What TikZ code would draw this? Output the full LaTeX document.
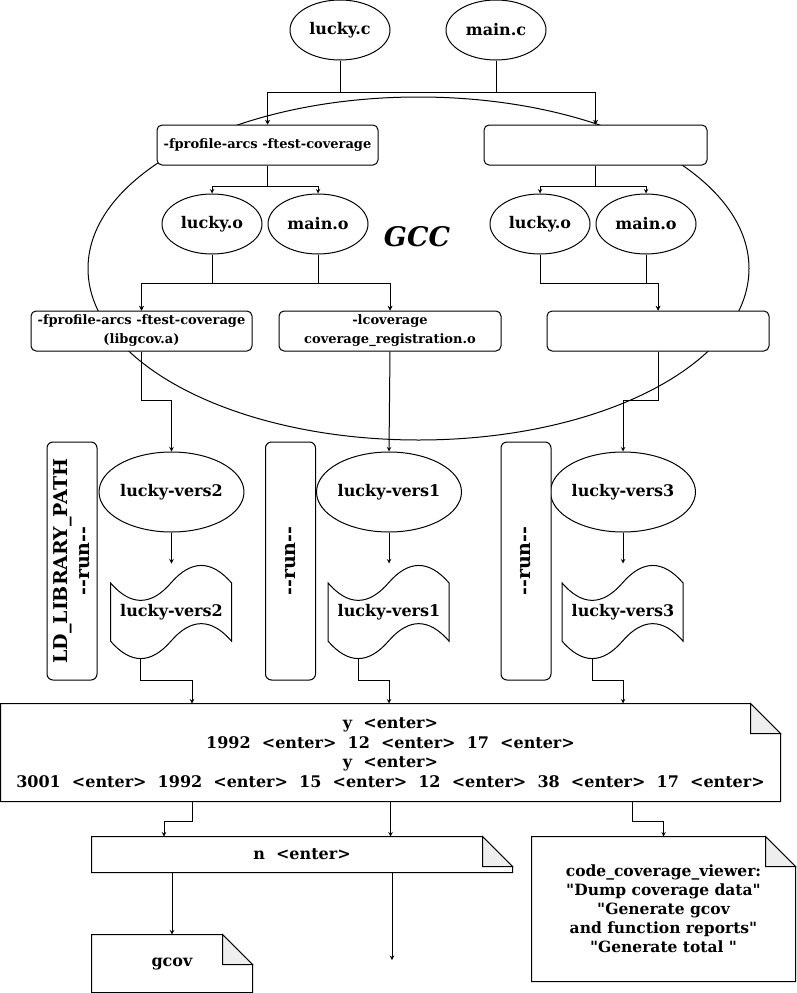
\documentclass[tikz,border=0pt]{standalone}
\usepackage{fontspec}
\setmainfont{DejaVu Serif}[Ligatures=TeXOff]
\usetikzlibrary{positioning,shapes.geometric}
\definecolor{foldColor}{RGB}{238,238,238}

\newcommand{\lblfont}{\bfseries\fontsize{16}{19}\selectfont}
\newcommand{\flagfont}{\bfseries\fontsize{13}{19}\selectfont}
\newcommand{\sidefont}{\bfseries\fontsize{19}{22}\selectfont}
\newcommand{\gccfont}{\bfseries\itshape\fontsize{27}{30}\selectfont}
\newcommand{\notefont}{\bfseries\fontsize{16}{19.5}\selectfont}

% page with a folded corner
\newcommand{\notepage}[1]{%
  \draw (#1.north west) -- ([xshift=-30pt]#1.north east) -- ([yshift=-30pt]#1.north east)
    -- (#1.south east) -- (#1.south west) -- cycle;
  \draw[fill=foldColor] ([xshift=-30pt]#1.north east) -- ([xshift=-30pt,yshift=-30pt]#1.north east)
    -- ([yshift=-30pt]#1.north east) -- cycle;}

% punched tape outline
\newcommand{\tapepage}[1]{%
  \begin{scope}[shift={(#1.north west)}]
    \draw (0,19.4) .. controls (20.17,42.67) and (40.33,42.67) .. (60.5,19.4)
      .. controls (80.67,-3.87) and (100.83,-3.87) .. (121,19.4) -- (121,77.6)
      .. controls (100.83,54.33) and (80.67,54.33) .. (60.5,77.6)
      .. controls (40.33,100.87) and (20.17,100.87) .. (0,77.6) -- cycle;
    \coordinate (#1-out) at (30.25,95);
  \end{scope}}

\begin{document}
\begin{tikzpicture}[x=1pt,y=-1pt,line width=1pt]
    \tikzstyle{src} = [ellipse,draw,fill=white,inner sep=0pt,minimum width=100pt,minimum height=60pt,font=\lblfont]
    \tikzstyle{bin} = [src,minimum width=131pt,minimum height=80pt]
    \tikzstyle{flag} = [rectangle,draw,fill=white,rounded corners=5pt,minimum height=40pt,inner sep=2pt,align=center,font=\flagfont]
    \tikzstyle{tapebox} = [rectangle,inner sep=0pt,minimum width=121pt,minimum height=97pt,font=\lblfont]
    \tikzstyle{runbox} = [rectangle,draw,fill=white,rounded corners=6pt,rotate=90,minimum width=238pt,minimum height=50pt,inner sep=0pt,align=center,font=\sidefont]
    \tikzstyle{notebox} = [rectangle,inner sep=0pt,align=center,font=\notefont]
    \tikzset{>={stealth}}

    \useasboundingbox (0,0) rectangle (796,993);

    \node [ellipse,draw,minimum width=661pt,minimum height=343pt] (gccarea) at (418.5,268.5) {};
    \node [font=\gccfont] (gcc) at (417,237) {GCC};

    \node [src] (luckyc) at (340,30) {lucky.c};
    \node [src, right=55pt of luckyc] (mainc) {main.c};

    \node [flag, minimum width=221pt] (covA) at (267.5,145) {-fprofile-arcs -ftest-coverage};
    \node [flag, minimum width=223pt, right=105pt of covA] (plainB) {};
    \foreach \s in {luckyc,mainc}
      \foreach \t in {covA,plainB}
        \draw [->] (\s.south) -- ++(0,32) -| (\t.north);

    \node [src] (luckyoA) at (212,224) {lucky.o};
    \node [src, right=5pt of luckyoA] (mainoA) {main.o};
    \node [src] (luckyoB) at (540,224) {lucky.o};
    \node [src, right=5pt of luckyoB] (mainoB) {main.o};
    \foreach \t in {luckyoA,mainoA}
      \draw [->] (covA.south) -- ++(0,21) -| (\t.north);
    \foreach \t in {luckyoB,mainoB}
      \draw [->] (plainB.south) -- ++(0,21) -| (\t.north);

    \node [flag, minimum width=221pt] (libA) at (141.5,331) {-fprofile-arcs -ftest-coverage\\(libgcov.a)};
    \node [flag, minimum width=222pt, right=26pt of libA] (regB) {-lcoverage\\coverage\_registration.o};
    \node [flag, minimum width=222pt, right=45pt of regB] (plainC) {};
    \foreach \s in {luckyoA,mainoA}
      \foreach \t in {libA,regB}
        \draw [->] (\s.south) -- ++(0,29) -| (\t.north);
    \foreach \s in {luckyoB,mainoB}
      \draw [->] (\s.south) -- ++(0,29) -| (plainC.north);

    \node [bin] (vers2) at (171.5,492) {lucky-vers2};
    \node [bin] (vers1) at (389,492) {lucky-vers1};
    \node [bin] (vers3) at (623,492) {lucky-vers3};
    \draw [->] (libA.south) -- ++(0,49) -| (vers2.north);
    \draw [->] (regB.south) -- (vers1.north);
    \draw [->] (plainC.south) -- ++(0,49) -| (vers3.north);

    \node [runbox] (ldrun) at (72,561) {LD\_LIBRARY\_PATH\\-\kern0pt-run-\kern0pt-};
    \node [runbox] (runA) at (290.5,561) {-\kern0pt-run-\kern0pt-};
    \node [runbox] (runB) at (526,561) {-\kern0pt-run-\kern0pt-};

    \node [tapebox, below=31pt of vers2] (tape2) {lucky-vers2};
    \node [tapebox, below=31pt of vers1] (tape1) {lucky-vers1};
    \node [tapebox, below=31pt of vers3] (tape3) {lucky-vers3};
    \tapepage{tape2}
    \tapepage{tape1}
    \tapepage{tape3}
    \foreach \v in {2,1,3}
      \draw [->] (vers\v.south) -- (tape\v.north);

    \node [notebox, minimum width=779pt, minimum height=97pt] (input) at (390.5,752.5)
      {y~~<enter>\\1992~~<enter>~~12~~<enter>~~17~~<enter>\\y~~<enter>\\3001~~<enter>~~1992~~<enter>~~15~~<enter>~~12~~<enter>~~38~~<enter>~~17~~<enter>};
    \notepage{input}
    \draw [->] (tape2-out) -- ++(0,22) -| ([xshift=-198.5pt]input.north);
    \draw [->] (tape1-out) -- ++(0,22) -| ([xshift=-1.5pt]input.north);
    \draw [->] (tape3-out) -- ++(0,22) -| ([xshift=232.5pt]input.north);

    \node [notebox, minimum width=420pt, minimum height=35pt] (nenter) at (302,854.5) {n~~<enter>};
    \notepage{nenter}
    \node [notebox, minimum width=263pt, minimum height=144pt, font=\bfseries\fontsize{15.5}{19}\selectfont] (viewer) at (663.5,909)
      {code\_coverage\_viewer:\\"Dump coverage data"\\"Generate gcov\\and function reports"\\"Generate total "};
    \notepage{viewer}
    \draw [->] ([xshift=-198.5pt]input.south) -- ++(0,20) -| ([xshift=-138pt]nenter.north);
    \draw [->] (input.south) -- (input.south |- nenter.north);
    \draw [->] ([xshift=241.5pt]input.south) -- ++(0,20) -| (viewer.north);

    \node [notebox, minimum width=160pt, minimum height=57pt] (gcov) at (172,963.5) {gcov};
    \notepage{gcov}
    \coordinate (sink) at (392,960);
    \draw [->] (nenter.south -| gcov.north) -- (gcov.north);
    \draw [->] (nenter.south -| sink) -- (sink);

  \end{tikzpicture}
\end{document}
